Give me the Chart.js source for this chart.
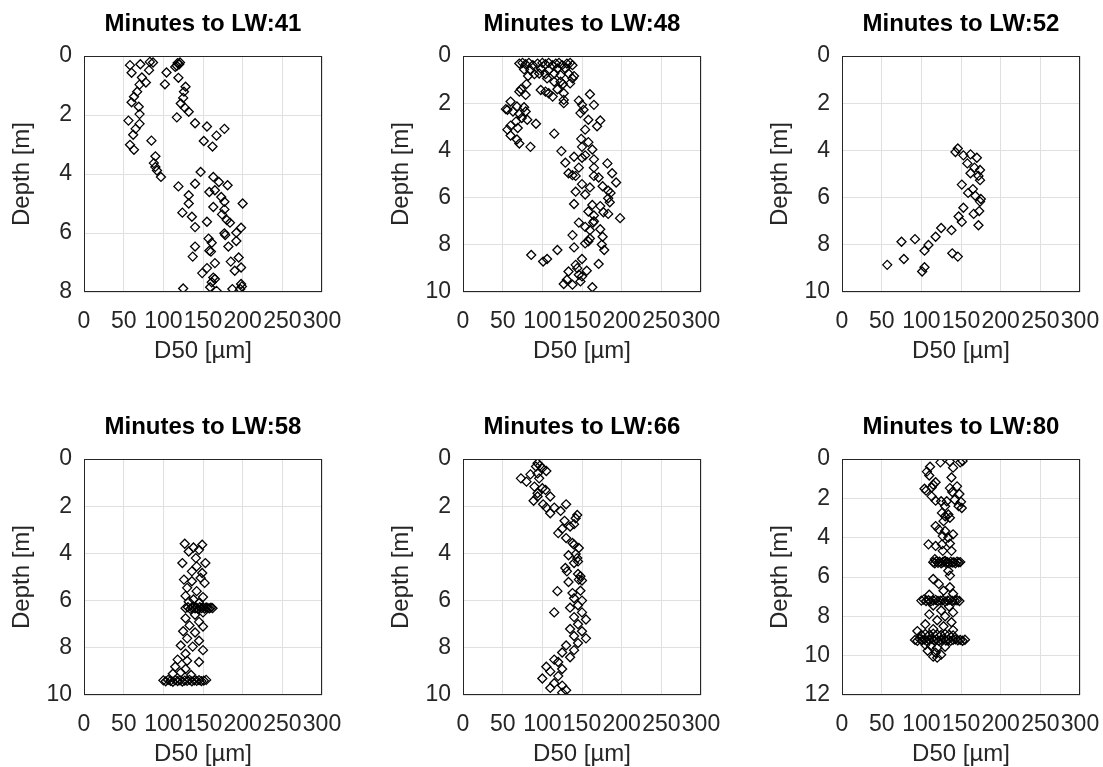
<!DOCTYPE html>
<html>
<head>
<meta charset="utf-8">
<script src="https://cdn.jsdelivr.net/npm/chart.js@4.4.1/dist/chart.umd.min.js"></script>
<style>
  html, body { margin: 0; padding: 0; background: #fff; }
  body { width: 1103px; height: 767px; position: relative; overflow: hidden; }
  canvas { position: absolute; }
</style>
</head>
<body>
<canvas id="c41"></canvas>
<canvas id="c48"></canvas>
<canvas id="c52"></canvas>
<canvas id="c58"></canvas>
<canvas id="c66"></canvas>
<canvas id="c80"></canvas>
<script>
// D50 [um], depth [m] pairs, one array per panel
const lw41 = [
  [58,0.31],[71,0.28],[83,0.2],[87,0.22],[82,0.48],[60,0.57],[73,0.73],[78,0.9],[70,0.97],[67,1.21],
  [63,1.38],[60,1.57],[69,1.72],[70,1.97],[56,2.19],[70,2.3],[65,2.47],[62,2.67],[58,3.01],[63,3.18],
  [85,2.87],[118,0.24],[120,0.28],[121,0.22],[117,0.33],[115,0.37],[104,0.56],[102,0.96],[119,0.74],
  [128,1.04],[126,1.21],[125,1.42],[122,1.61],[127,1.75],[132,1.89],[117,2.08],[140,2.28],[155,2.39],
  [177,2.47],[167,2.7],[151,2.88],[162,3.07],[90,3.4],[88,3.63],[90,3.76],[92,3.88],[97,4.1],
  [147,3.93],[163,4.1],[170,4.27],[181,4.38],[119,4.42],[140,4.33],[158,4.61],[165,4.55],[173,4.78],
  [132,4.72],[177,4.94],[200,5.0],[132,5.0],[163,5.12],[177,5.2],[124,5.31],[136,5.45],[174,5.37],
  [180,5.56],[184,5.65],[155,5.62],[140,5.8],[198,5.82],[192,5.99],[178,6.07],[177,6.01],[157,6.19],
  [161,6.33],[192,6.27],[140,6.46],[182,6.46],[158,6.6],[160,6.63],[137,6.8],[195,6.83],[185,6.97],
  [165,7.02],[155,7.19],[198,7.17],[190,7.28],[149,7.36],[163,7.51],[165,7.56],[161,7.67],[198,7.73],
  [125,7.88],[159,7.84],[167,7.96],[187,7.9],[197,7.9],[199,7.81]
];
const lw48 = [
  [71,0.32],[75,0.29],[79,0.35],[83,0.29],[88,0.39],[94,0.32],[100,0.29],[104,0.35],[108,0.29],[113,0.39],
  [117,0.32],[121,0.29],[125,0.39],[131,0.32],[135,0.29],[138,0.39],[77,0.57],[85,0.6],[98,0.53],[108,0.6],
  [119,0.53],[129,0.53],[82,0.85],[90,0.77],[96,0.74],[104,0.77],[115,0.74],[123,0.81],[140,0.85],[133,0.74],
  [106,0.95],[115,1.09],[123,1.09],[126,1.19],[135,1.16],[138,0.95],[80,1.19],[71,1.51],[79,1.65],[73,1.41],
  [98,1.44],[104,1.51],[108,1.58],[113,1.72],[119,1.41],[127,1.58],[127,1.86],[127,2.0],[160,1.62],[146,1.89],
  [150,2.07],[152,2.28],[165,2.07],[148,2.42],[158,2.7],[173,2.73],[169,2.98],[154,3.12],[115,3.29],[92,2.87],
  [60,1.93],[54,2.25],[56,2.28],[63,2.35],[68,2.14],[77,2.17],[79,2.35],[71,2.45],[74,2.63],[81,2.7],
  [67,2.77],[60,2.95],[56,3.12],[69,3.05],[60,3.37],[68,3.54],[71,3.71],[85,3.85],[149,3.51],[158,3.65],
  [150,3.85],[163,3.96],[124,4.03],[140,4.27],[150,4.31],[154,4.21],[129,4.52],[165,4.38],[182,4.55],[146,4.73],
  [165,4.73],[133,4.97],[138,5.05],[142,5.08],[188,4.97],[165,5.08],[171,5.15],[150,5.43],[160,5.57],[176,5.52],
  [193,5.36],[183,5.71],[186,5.8],[142,5.75],[154,5.87],[185,6.2],[183,6.03],[140,6.27],[163,6.31],[173,6.36],
  [158,6.59],[177,6.62],[165,6.76],[198,6.87],[183,6.69],[165,7.0],[164,7.06],[146,7.06],[154,7.24],[173,7.34],
  [160,7.38],[138,7.59],[176,7.66],[160,7.73],[158,7.85],[175,7.99],[178,8.22],[154,7.94],[140,8.11],[119,8.22],
  [86,8.43],[101,8.71],[106,8.6],[150,8.6],[171,8.81],[142,8.85],[144,8.99],[133,9.13],[146,9.27],[150,9.34],
  [156,9.1],[131,9.48],[127,9.66],[138,9.69],[148,9.55],[163,9.8]
];
const lw52 = [
  [146,3.92],[143,4.07],[153,4.21],[162,4.17],[170,4.31],[158,4.55],[167,4.73],[174,4.83],[162,4.97],[172,5.08],
  [174,5.26],[151,5.45],[165,5.64],[159,5.8],[168,5.92],[175,6.06],[174,6.17],[153,6.43],[173,6.57],[166,6.69],
  [147,6.8],[151,7.03],[172,7.17],[138,7.38],[125,7.29],[118,7.66],[109,8.01],[104,8.25],[92,7.76],[75,7.87],
  [78,8.6],[57,8.85],[139,8.36],[146,8.5],[104,8.95],[101,9.13]
];
const lw58 = [
  [127,3.59],[149,3.63],[138,3.75],[132,3.92],[145,3.85],[124,4.41],[141,4.2],[153,4.41],[142,4.55],[136,4.76],
  [149,4.83],[126,5.11],[136,5.18],[152,5.25],[147,5.04],[130,5.46],[142,5.6],[128,5.8],[150,5.85],[138,5.95],
  [145,6.1],[132,6.05],[128,6.32],[131,6.28],[134,6.35],[136,6.3],[138,6.27],[140,6.33],[142,6.3],[144,6.36],
  [146,6.28],[148,6.32],[150,6.3],[152,6.34],[154,6.29],[156,6.31],[158,6.33],[160,6.3],[162,6.32],[150,6.5],
  [140,6.6],[128,6.75],[145,6.9],[133,7.05],[150,7.1],[125,7.3],[140,7.35],[130,7.6],[145,7.7],[122,7.9],
  [137,7.95],[150,8.1],[128,8.25],[118,8.5],[130,8.55],[145,8.6],[115,8.8],[128,8.9],[122,9.05],[112,9.1],
  [135,9.15],[100,9.38],[103,9.42],[106,9.36],[109,9.4],[112,9.44],[115,9.37],[118,9.41],[121,9.38],[124,9.43],
  [127,9.39],[130,9.4],[133,9.36],[136,9.42],[139,9.38],[142,9.4],[145,9.37],[148,9.41],[151,9.39],[154,9.36]
];
const lw66 = [
  [94,0.18],[97,0.28],[92,0.32],[100,0.39],[105,0.51],[73,0.82],[80,0.96],[85,0.65],[94,0.61],[96,0.82],
  [90,1.17],[100,1.24],[104,1.31],[94,1.45],[89,1.77],[94,1.59],[110,1.59],[101,1.92],[105,2.06],[115,2.06],
  [110,2.3],[130,1.92],[123,2.2],[144,2.37],[142,2.51],[140,2.76],[128,2.62],[135,2.86],[125,2.96],[120,3.14],
  [130,3.35],[138,3.56],[140,3.63],[146,3.77],[133,4.08],[142,4.03],[144,4.2],[140,4.41],[145,4.34],[129,4.62],
  [131,4.76],[145,4.87],[148,4.97],[146,5.11],[133,5.21],[150,5.15],[119,5.6],[138,5.68],[148,5.58],[140,5.9],
  [150,6.0],[145,6.2],[135,6.3],[150,6.5],[115,6.5],[140,6.7],[155,6.8],[145,7.0],[135,7.2],[150,7.3],
  [140,7.5],[155,7.6],[145,7.8],[130,7.9],[140,8.1],[125,8.2],[135,8.4],[115,8.5],[120,8.6],[105,8.8],
  [125,8.9],[110,9.0],[120,9.2],[100,9.3],[115,9.5],[125,9.6],[130,9.8],[125,9.9],[110,9.7]
];
const lw80 = [
  [124,0.17],[136,0.13],[149,0.17],[152,0.1],[111,0.39],[140,0.44],[107,0.64],[110,0.84],[118,1.18],[115,1.31],
  [113,1.45],[106,1.61],[104,1.51],[138,0.94],[136,1.48],[145,1.39],[139,1.68],[148,1.78],[113,1.9],[118,2.12],
  [125,2.15],[132,2.15],[142,2.07],[150,2.18],[130,2.4],[147,2.4],[151,2.49],[126,2.74],[130,2.91],[134,2.82],
  [128,3.16],[136,2.99],[118,3.41],[122,3.58],[130,3.66],[140,3.83],[127,3.92],[134,4.0],[109,4.34],[118,4.42],
  [126,4.34],[136,4.3],[127,4.67],[138,4.67],[117,5.09],[130,5.18],
  [115,5.25],[117,5.3],[119,5.2],[121,5.28],[123,5.22],[125,5.3],[127,5.25],[129,5.2],[131,5.28],[133,5.24],
  [135,5.3],[137,5.22],[139,5.27],[141,5.25],[143,5.3],[145,5.22],[147,5.26],[149,5.24],
  [134,5.68],[136,5.93],[122,6.35],[136,6.52],[115,6.1],[128,6.7],[110,6.9],[140,6.85],
  [100,7.2],[103,7.15],[106,7.22],[109,7.18],[112,7.24],[115,7.2],[118,7.16],[121,7.22],[124,7.2],[127,7.18],
  [130,7.24],[133,7.2],[136,7.16],[139,7.22],[142,7.2],[145,7.18],[148,7.22],
  [115,7.45],[135,7.5],[125,7.7],[140,7.8],[110,7.9],[130,8.0],[120,8.2],[138,8.3],[105,8.4],[128,8.5],
  [115,8.65],[140,8.7],[95,8.75],
  [92,9.2],[95,9.25],[98,9.15],[101,9.22],[104,9.18],[107,9.25],[110,9.2],[113,9.15],[116,9.22],[119,9.18],
  [122,9.25],[125,9.2],[128,9.16],[131,9.23],[134,9.19],[137,9.25],[140,9.2],[143,9.17],[146,9.22],[149,9.2],
  [152,9.24],[155,9.19],
  [100,8.95],[105,8.9],[110,8.95],[115,8.88],[120,8.92],[125,8.95],[130,8.9],[135,8.93],[140,8.97],
  [105,9.45],[112,9.5],[120,9.6],[130,9.55],[108,9.75],[118,9.85],[125,9.95],[115,10.05],[120,10.1]
];

const titles = ['Minutes to LW:41', 'Minutes to LW:48', 'Minutes to LW:52',
                'Minutes to LW:58', 'Minutes to LW:66', 'Minutes to LW:80'];
const panelData = [lw41, lw48, lw52, lw58, lw66, lw80];
const depthMax = [8, 10, 10, 10, 10, 12];
const d50Ticks = [0, 50, 100, 150, 200, 250, 300];

// plot-area corners in the page
const plotLeft = [84, 463, 842, 84, 463, 842];
const plotTop = [56, 56, 56, 459, 459, 459];
const plotW = 238, plotH = 236;
const yAxisW = 84, topH = 56, bottomH = 80, rightPad = 24;

const ink = '#262626';
const fontFam = '"Liberation Sans", Arial, Helvetica, sans-serif';

// box round the plot area, like matlab's "box on"
const boxPlugin = {
  id: 'box',
  afterDatasetsDraw(chart) {
    const a = chart.chartArea;
    const ctx = chart.ctx;
    ctx.save();
    ctx.strokeStyle = ink;
    ctx.lineWidth = 1;
    ctx.strokeRect(Math.round(a.left) + 0.5, Math.round(a.top) + 0.5,
                   Math.round(a.right - a.left) - 1, Math.round(a.bottom - a.top) - 1);
    ctx.restore();
  }
};

for (let i = 0; i < 6; i++) {
  const cv = document.getElementById('c' + titles[i].slice(-2));
  cv.width = yAxisW + plotW + rightPad;
  cv.height = topH + plotH + bottomH;
  cv.style.left = (plotLeft[i] - yAxisW) + 'px';
  cv.style.top = (plotTop[i] - topH) + 'px';

  new Chart(cv.getContext('2d'), {
    type: 'scatter',
    data: {
      datasets: [{
        data: panelData[i].map(p => ({ x: p[0], y: p[1] })),
        pointStyle: 'rectRot',
        pointRadius: 4.5,
        borderColor: '#000',
        backgroundColor: 'rgba(0,0,0,0)',
        borderWidth: 1.3
      }]
    },
    options: {
      responsive: false,
      animation: false,
      events: [],
      layout: { padding: { left: 0, right: rightPad, top: 0, bottom: 0 } },
      plugins: { legend: { display: false }, tooltip: { enabled: false } },
      scales: {
        x: {
          type: 'linear',
          position: 'bottom',
          min: 0, max: 300,
          afterBuildTicks: ax => { ax.ticks = d50Ticks.map(v => ({ value: v })); },
          ticks: { color: ink, padding: 16, autoSkip: false, maxRotation: 0, minRotation: 0,
                   font: { family: fontFam, size: 23 } },
          grid: { color: '#e0e0e0', drawTicks: false },
          border: { display: false },
          title: { display: true, text: 'D50 [µm]', color: ink, padding: { bottom: 6 },
                   font: { family: fontFam, size: 24 } },
          afterFit: ax => { ax.height = bottomH; ax.paddingLeft = 0; ax.paddingRight = 0; }
        },
        head: {
          type: 'linear',
          position: 'top',
          ticks: { display: false },
          grid: { display: false },
          border: { display: false },
          title: { display: true, text: titles[i], color: '#000', padding: { top: 10 },
                   font: { family: fontFam, size: 24, weight: 'bold' } },
          afterFit: ax => { ax.height = topH; ax.paddingLeft = 0; ax.paddingRight = 0; }
        },
        y: {
          type: 'linear',
          position: 'left',
          reverse: true,
          min: 0, max: depthMax[i],
          ticks: { stepSize: 2, color: ink, padding: 12, font: { family: fontFam, size: 23 } },
          grid: { color: '#e0e0e0', drawTicks: false },
          border: { display: false },
          title: { display: true, text: 'Depth [m]', color: ink, padding: { top: 8 },
                   font: { family: fontFam, size: 24 } },
          afterFit: ax => { ax.width = yAxisW; ax.paddingTop = 0; ax.paddingBottom = 0; }
        }
      }
    },
    plugins: [boxPlugin]
  });
}
</script>
</body>
</html>
